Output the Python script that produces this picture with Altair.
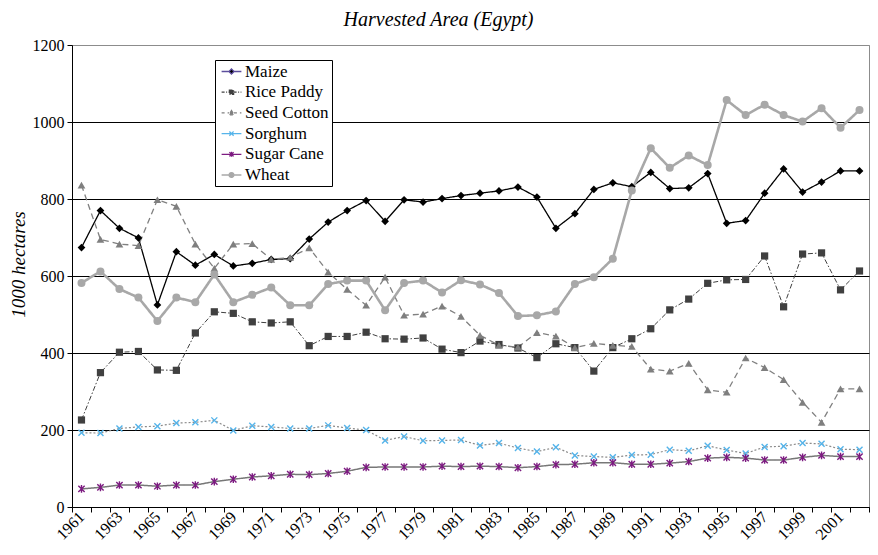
import altair as alt
import pandas as pd

YEARS = [str(y) for y in range(1961, 2003)]
SERIES = ["Maize", "Rice Paddy", "Seed Cotton", "Sorghum", "Sugar Cane", "Wheat"]

MAIZE = [674, 770, 724, 699, 525, 663, 628, 656, 626, 633, 643, 645, 696, 740,
         770, 796, 742, 798, 792, 801, 809, 815, 821, 831, 805, 724, 762, 825,
         842, 832, 869, 827, 829, 866, 737, 744, 815, 878, 818, 844, 873, 873]
RICE = [226, 349, 402, 404, 356, 355, 452, 507, 503, 481, 478, 481, 419, 443,
        443, 454, 437, 436, 439, 410, 401, 431, 422, 413, 388, 424, 414, 353,
        414, 437, 463, 512, 540, 581, 590, 591, 652, 520, 657, 660, 564, 613]
COTTON = [836, 695, 683, 679, 798, 781, 683, 620, 683, 684, 643, 648, 673, 610,
          565, 524, 597, 498, 501, 522, 495, 446, 420, 415, 453, 444, 414, 425,
          420, 417, 358, 353, 373, 304, 298, 387, 362, 331, 272, 220, 307, 307]
SORGHUM = [193, 192, 204, 208, 210, 218, 220, 225, 199, 211, 208, 204, 204, 212,
           205, 200, 173, 183, 172, 173, 174, 160, 166, 153, 144, 155, 134, 131,
           129, 135, 136, 149, 146, 159, 148, 139, 156, 158, 166, 164, 150, 149]
SUGAR = [47, 51, 57, 57, 54, 57, 57, 66, 72, 78, 81, 85, 84, 87,
         93, 103, 104, 104, 104, 106, 105, 106, 105, 102, 105, 110, 111, 115,
         115, 111, 111, 114, 118, 127, 129, 127, 122, 122, 129, 134, 131, 131]
WHEAT = [582, 612, 566, 544, 483, 544, 532, 604, 532, 551, 570, 524, 524, 579,
         588, 588, 511, 582, 588, 557, 589, 578, 556, 496, 498, 508, 579, 597,
         645, 822, 932, 881, 913, 888, 1057, 1018, 1045, 1018, 1001, 1036, 985, 1031]
Y_TICKS = [0, 200, 400, 600, 800, 1000, 1200]

rows = []
for name, vals in zip(SERIES, [MAIZE, RICE, COTTON, SORGHUM, SUGAR, WHEAT]):
    for yr, v in zip(YEARS, vals):
        rows.append({"Year": yr, "Crop": name, "Value": v})
df = pd.DataFrame(rows)

SERIF = "Liberation Serif"

# styles
LINE_COLOR = ["#000000", "#404040", "#808080", "#8a8a8a", "#777777", "#a8a8a8"]
LINE_DASH = [[1, 0], [5, 2, 1.5, 2], [6, 4], [2, 2], [1, 0], [1, 0]]
LINE_WIDTH = [1.3, 1.0, 1.3, 1.2, 1.5, 2.6]
MARK_COLOR = ["#000000", "#404040", "#7f7f7f", "#55b4ea", "#7c1a80", "#a8a8a8"]
XPATH = "M-1,-1L1,1M-1,1L1,-1"
STARPATH = "M-1,-1L1,1M-1,1L1,-1M0,-1.2L0,1.2"
MARK_SHAPE = ["diamond", "square", "triangle-up", XPATH, STARPATH, "circle"]
MARK_FILLED = [True, True, True, False, False, True]
MARK_SIZE = [60, 52, 60, 36, 40, 64]

LEG_LINE = ["#5b4c9c", "#404040", "#808080", "#55b4ea", "#7c1a80", "#a8a8a8"]
LEG_FILL = ["#000000", "#404040", "#808080", "#55b4ea", "#7c1a80", "#a8a8a8"]
LEG_DASH = [[1, 0], [3, 1.5, 1, 1.5], [3, 3], [1, 0], [1, 0], [1, 0]]
LEG_PATHS = [
    "M-3.3,0H-0.85M0.85,0H3.3M0,-0.85L0.85,0L0,0.85L-0.85,0Z",
    "M-3.3,0H-0.7M0.7,0H3.3M-0.7,-0.7H0.7V0.7H-0.7Z",
    "M-3.3,0H-0.8M0.8,0H3.3M0,-0.8L0.8,0.65H-0.8Z",
    "M-3.3,0H3.3M-0.7,-0.7L0.7,0.7M-0.7,0.7L0.7,-0.7",
    "M-3.3,0H3.3M-0.7,-0.7L0.7,0.7M-0.7,0.7L0.7,-0.7M0,-0.85V0.85",
    "M-3.3,0H-0.8M0.8,0H3.3M0.8,0A0.8,0.8 0 1,1 -0.8,0A0.8,0.8 0 1,1 0.8,0Z",
]

x_enc = alt.X(
    "Year:O",
    scale=alt.Scale(type="band", domain=YEARS, paddingInner=0, paddingOuter=0),
    axis=alt.Axis(
        title=None, labelAngle=315, labelAlign="right", labelBaseline="middle",
        labelPadding=2, tickBand="extent", tickSize=5, tickColor="black",
        domainColor="black", labelFont=SERIF, labelFontSize=16, labelColor="black",
        labelOverlap=False, labelExpr="(toNumber(datum.value) - 1961) % 2 == 0 ? datum.value : ''",
        grid=False,
    ),
)
y_enc = alt.Y(
    "Value:Q",
    scale=alt.Scale(domain=[0, 1200], nice=False),
    axis=alt.Axis(
        title="1000 hectares", values=Y_TICKS, format="d", tickSize=5, tickColor="black",
        domainColor="black", labelFont=SERIF, labelFontSize=16, labelColor="black",
        labelPadding=3, grid=True,
        gridColor={"condition": {"test": "datum.value >= 1200", "value": "#8c8c8c"}, "value": "black"},
        gridOpacity=1, titleFont=SERIF, titleFontSize=19, titleFontStyle="italic",
        titleFontWeight="normal", titleColor="black", titleAngle=270, titleX=-48, titleY=219,
        titleAlign="center", titleBaseline="alphabetic",
    ),
)

base = alt.Chart(df)
layers = []
for i, name in enumerate(SERIES):
    sub = base.transform_filter(alt.datum.Crop == name)
    layers.append(sub.mark_line(color=LINE_COLOR[i], strokeDash=LINE_DASH[i],
                                strokeWidth=LINE_WIDTH[i]).encode(x=x_enc, y=y_enc))
for i, name in enumerate(SERIES):
    sub = base.transform_filter(alt.datum.Crop == name)
    layers.append(sub.mark_point(shape=MARK_SHAPE[i], filled=MARK_FILLED[i], color=MARK_COLOR[i],
                                 size=MARK_SIZE[i], opacity=1, strokeWidth=1.4).encode(x=x_enc, y=y_enc))

legend = alt.Legend(
    title=None, orient="none", legendX=143, legendY=15, symbolOpacity=1, symbolSize=36,
    symbolStrokeWidth=1.3, labelFont=SERIF, labelFontSize=17, labelColor="black",
    strokeColor="black", fillColor="white", padding=3, rowPadding=2.7, symbolOffset=5,
    labelOffset=5, labelLimit=300,
)
carrier = base.mark_point(filled=True, opacity=0).encode(
    x=x_enc, y=y_enc,
    fill=alt.Fill("Crop:N", scale=alt.Scale(domain=SERIES, range=LEG_FILL), legend=legend),
    stroke=alt.Stroke("Crop:N", scale=alt.Scale(domain=SERIES, range=LEG_LINE), legend=legend),
    shape=alt.Shape("Crop:N", scale=alt.Scale(domain=SERIES, range=LEG_PATHS), legend=legend),
    strokeDash=alt.StrokeDash("Crop:N", scale=alt.Scale(domain=SERIES, range=LEG_DASH), legend=legend),
)
layers.append(carrier)

chart = alt.layer(*layers).properties(
    width=797, height=462,
    padding={"left": 64, "top": 37, "right": 1, "bottom": 40},
    autosize=alt.AutoSizeParams(type="none"),
    title=alt.Title("Harvested Area (Egypt)", font=SERIF, fontSize=20, fontStyle="italic",
                    fontWeight="normal", color="black", anchor="middle", dx=-32, offset=7),
).configure(background="white", font=SERIF).configure_view(
    stroke="#8c8c8c", strokeWidth=1
).configure_axis(labelFont=SERIF, titleFont=SERIF).configure_legend(labelFont=SERIF)

chart.save("out.html", embed_options={"renderer": "svg", "actions": False})
